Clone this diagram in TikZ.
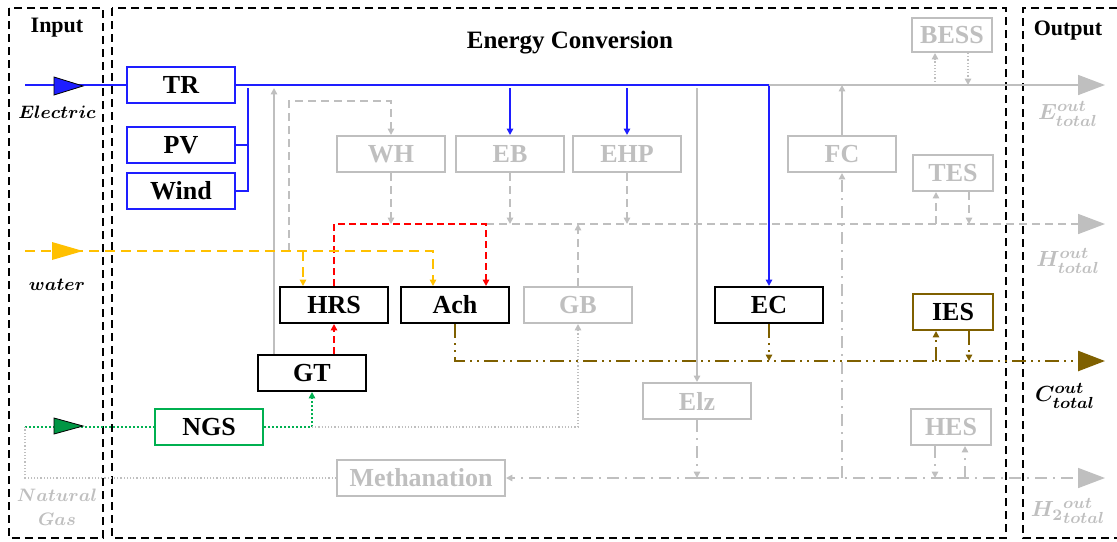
\documentclass[tikz,border=0pt]{standalone}
\usepackage{fontspec}
\setmainfont{Liberation Serif}
\usepackage{bm}
\usetikzlibrary{arrows.meta}
\definecolor{lgray}{RGB}{191,191,191}
\definecolor{eblue}{RGB}{30,30,255}
\definecolor{ngreen}{RGB}{0,176,80}
\definecolor{cbrown}{RGB}{127,96,0}
\definecolor{worange}{RGB}{255,192,0}
\tikzset{
  box/.style={draw, line width=1pt, minimum width=54pt, minimum height=18pt, inner sep=0pt, font=\fontsize{13}{15}\selectfont\bfseries},
  sbox/.style={box, minimum width=40pt},
  off/.style={draw=lgray, text=lgray},
  tip/.style={-{Triangle[length=3.2pt,width=3.2pt]}},
  bus/.style={-{Triangle[length=13.5pt,width=10pt]}},
  frame/.style={line width=0.9pt, dash pattern=on 4pt off 2.5pt},
  eline/.style={eblue, line width=1pt},
  gline/.style={lgray, line width=0.8pt},
  gdash/.style={lgray, line width=0.8pt, dash pattern=on 4pt off 2.5pt},
  gdot/.style={lgray, line width=0.8pt, dash pattern=on 0.6pt off 1pt},
  gdd/.style={lgray, line width=0.8pt, dash pattern=on 6pt off 3pt on 1pt off 3pt},
  cdd/.style={cbrown, line width=1.2pt, dash pattern=on 7pt off 2.5pt on 1pt off 2.5pt on 1pt off 2.5pt},
  rdash/.style={red, line width=1pt, dash pattern=on 3.5pt off 2pt},
  odash/.style={worange, line width=1pt, dash pattern=on 5pt off 3pt},
  gndot/.style={ngreen, line width=1.2pt, dash pattern=on 1pt off 1pt},
  hd/.style={font=\fontsize{11}{13}\selectfont\bfseries},
  ml/.style={font=\fontsize{9.5}{11}\selectfont},
}
\begin{document}
\begin{tikzpicture}[x=0.5pt,y=-0.5pt]
\useasboundingbox (0,0) rectangle (1117,541);
\draw[frame] (9,8) rectangle (103,538);
\draw[frame] (112,8) rectangle (1006,538);
\draw[frame] (1117,8) -- (1023,8) -- (1023,538) -- (1117,538);
\node[hd] (lin) at (57,28) {Input};
\node[hd, font=\fontsize{12.5}{15}\selectfont\bfseries] (lec) at (570,43) {Energy Conversion};
\node[hd] (lout) at (1068,31) {Output};

\node[box, draw=eblue] (tr) at (181,85) {TR};
\node[box, draw=eblue] (pv) at (181,145) {PV};
\node[box, draw=eblue] (wind) at (181,191) {Wind};
\node[box, off] (wh) at (391,154) {WH};
\node[box, off] (eb) at (510,154) {EB};
\node[box, off] (ehp) at (627,154) {EHP};
\node[box, off] (fc) at (842,154) {FC};
\node[sbox, off, minimum height=17pt] (bess) at (952,35) {BESS};
\node[sbox, off] (tes) at (953,173) {TES};
\node[box] (hrs) at (334,305) {HRS};
\node[box] (ach) at (455,305) {Ach};
\node[box, off] (gb) at (578,305) {GB};
\node[box] (ec) at (769,305) {EC};
\node[sbox, draw=cbrown] (ies) at (953,312) {IES};
\node[box] (gt) at (312,373) {GT};
\node[box, draw=ngreen] (ngs) at (209,427) {NGS};
\node[box, off] (elz) at (697,401) {Elz};
\node[sbox, off] (hes) at (951,427) {HES};
\node[box, off, minimum width=84pt] (meth) at (421,478) {Methanation};

\coordinate (eout) at (1105,85);
\coordinate (hout) at (1105,224);
\coordinate (cout) at (1105,361);
\coordinate (h2out) at (1105,478);
\coordinate (ein) at (25,85);
\coordinate (win) at (25,251);
\coordinate (gin) at (25,427);
\coordinate (rbus) at (248,88);
\coordinate (gtup) at ([xshift=-19pt]gt.north);
\coordinate (hrsL) at ([xshift=-15.5pt]hrs.north);
\coordinate (achL) at ([xshift=-11pt]ach.north);
\coordinate (achR) at ([xshift=15.5pt]ach.north);
\coordinate (wtap) at (289,251);

% electricity
\draw[eline] (ein) -- (tr.west);
\draw[eline, tip] (tr.east) -| (ec.north);
\draw[gline, bus] (ec.north |- eout) -- (eout);
\draw[eline] (wind.east) -| (rbus);
\draw[eline] (pv.east) -- (pv.east -| rbus);
\foreach \n in {eb,ehp} \draw[eline, tip] ([yshift=-1.5pt]\n.north |- eout) -- (\n.north);
\draw[gline, tip] (gtup) -- ([yshift=-1.5pt]gtup |- eout);
\draw[gline, tip] ([yshift=-1.5pt]elz.north |- eout) -- (elz.north);
\draw[gline, tip] (fc.north) -- (fc.north |- eout);

% heat
\draw[gdash, tip] (wtap) |- ([yshift=17pt]wh.north) -- (wh.north);
\foreach \n in {wh,eb,ehp} \draw[gdash, tip] (\n.south) -- (\n.south |- hout);
\draw[gdash, bus] (achR |- hout) -- (hout);
\draw[rdash, tip] (hrs.north) |- (achR |- hout) -- (achR);
\draw[rdash, tip] (hrs.south |- gt.north) -- (hrs.south);
\draw[gdash, tip] (gb.north) -- (gb.north |- hout);

% water
\draw[odash, tip] (win) -| (achL);
\draw[odash, tip] (hrsL |- win) -- (hrsL);

% gas
\draw[gndot] (gin) -- (ngs.west);
\draw[gndot, tip] (ngs.east) -| (gt.south);
\draw[gdot, tip] (gt.south |- ngs.east) -| (gb.south);
\draw[gdot] (meth.west) -| (gin);

% hydrogen
\draw[gdd, tip] (elz.south) -- (elz.south |- h2out);
\draw[gdd, tip] (elz.south |- h2out) -- (meth.east);
\draw[gdd, bus] (elz.south |- h2out) -- (h2out);
\draw[gdd, tip] (fc.south |- h2out) -- (fc.south);

% cooling
\draw[cdd, bus] (ach.south) |- (cout);
\draw[cdd, tip] (ec.south) -- (ec.south |- cout);

% storage
\foreach \n/\b/\s in {bess/eout/gdot, tes/hout/gdash, ies/cout/cdd}{
  \coordinate (\n L) at ([xshift=-8.5pt]\n.south);
  \coordinate (\n R) at ([xshift=8pt]\n.south);
  \draw[\s, tip] (\n L |- \b) -- (\n L);
  \draw[\s, tip] (\n R) -- (\n R |- \b);
}
\coordinate (hesL) at ([xshift=-8pt]hes.south);
\coordinate (hesR) at ([xshift=7pt]hes.south);
\draw[gdd, tip] (hesL) -- (hesL |- h2out);
\draw[gdd, tip] (hesR |- h2out) -- (hesR);

% input arrows
\filldraw[fill=eblue, draw=black, line width=0.4pt] (54,77) -- (83,86) -- (54,95) -- cycle;
\fill[worange] (52,242) -- (83,251) -- (52,260) -- cycle;
\filldraw[fill=ngreen!85!black, draw=black, line width=0.4pt] (54,418) -- (83,426) -- (54,434) -- cycle;

\node[ml] (lel) at (57,112) {$\bm{Electric}$};
\node[ml] (lwa) at (57,285) {$\bm{water}$};
\node[ml, text=lgray] (lna) at (57,495) {$\bm{Natural}$};
\node[ml, text=lgray] (lga) at (57,519) {$\bm{Gas}$};
\node[ml, font=\fontsize{11}{13}\selectfont, text=lgray] (le) at (1068,114) {$\bm{E^{out}_{total}}$};
\node[ml, font=\fontsize{11}{13}\selectfont, text=lgray] (lh) at (1068,261) {$\bm{H^{out}_{total}}$};
\node[ml, font=\fontsize{11}{13}\selectfont] (lc) at (1065,396) {$\bm{C^{out}_{total}}$};
\node[ml, font=\fontsize{11}{13}\selectfont, text=lgray] (lh2) at (1068,511) {$\bm{H_2{}^{out}_{total}}$};
\end{tikzpicture}
\end{document}
